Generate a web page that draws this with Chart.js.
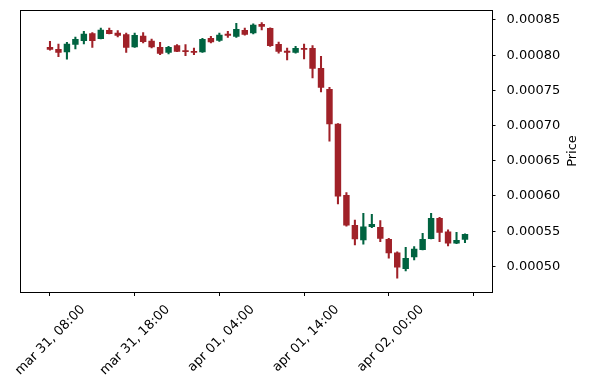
<!DOCTYPE html>
<html>
<head>
<meta charset="utf-8">
<script src="https://cdn.jsdelivr.net/npm/chart.js@4"></script>
<style>
  html, body { margin: 0; padding: 0; background: #fff; }
</style>
</head>
<body>
<canvas id="chart" width="589" height="390"></canvas>
<script>
// hourly candles, mar 31 08:00 -> apr 02 09:00
const opens = [0.0008116, 0.0008088, 0.0008041, 0.0008149, 0.0008202, 0.0008311, 0.0008230, 0.0008358, 0.0008320, 0.0008297,
  0.0008112, 0.0008277, 0.0008206, 0.0008117, 0.0008036, 0.0008141, 0.0008070, 0.0008060, 0.0008041, 0.0008244,
  0.0008206, 0.0008305, 0.0008263, 0.0008358, 0.0008311, 0.0008443, 0.0008386, 0.0008159, 0.0008064, 0.0008036,
  0.0008102, 0.0008102, 0.0007818, 0.0007520, 0.0007027, 0.0006015, 0.0005589, 0.0005371, 0.0005560, 0.0005560,
  0.0005390, 0.0005196, 0.0004964, 0.0005130, 0.0005234, 0.0005390, 0.0005688, 0.0005494, 0.0005324, 0.0005380]
const highs = [0.0008197, 0.0008159, 0.0008183, 0.0008259, 0.0008340, 0.0008320, 0.0008386, 0.0008386, 0.0008348, 0.0008315,
  0.0008315, 0.0008320, 0.0008230, 0.0008183, 0.0008126, 0.0008150, 0.0008150, 0.0008102, 0.0008240, 0.0008269,
  0.0008315, 0.0008340, 0.0008453, 0.0008386, 0.0008447, 0.0008462, 0.0008390, 0.0008188, 0.0008102, 0.0008126,
  0.0008159, 0.0008135, 0.0007984, 0.0007544, 0.0007030, 0.0006048, 0.0005659, 0.0005754, 0.0005741, 0.0005649,
  0.0005400, 0.0005206, 0.0005272, 0.0005281, 0.0005471, 0.0005754, 0.0005698, 0.0005518, 0.0005485, 0.0005461]
const lows = [0.0008070, 0.0007979, 0.0007942, 0.0008088, 0.0008159, 0.0008112, 0.0008230, 0.0008301, 0.0008259, 0.0008041,
  0.0008112, 0.0008173, 0.0008102, 0.0008007, 0.0008017, 0.0008050, 0.0007993, 0.0008007, 0.0008041, 0.0008173,
  0.0008197, 0.0008254, 0.0008254, 0.0008283, 0.0008301, 0.0008358, 0.0008125, 0.0008027, 0.0007932, 0.0008027,
  0.0007946, 0.0007676, 0.0007478, 0.0006777, 0.0005887, 0.0005570, 0.0005304, 0.0005314, 0.0005550, 0.0005351,
  0.0005116, 0.0004832, 0.0004936, 0.0005092, 0.0005234, 0.0005390, 0.0005351, 0.0005291, 0.0005324, 0.0005338]
const closes = [0.0008078, 0.0008036, 0.0008163, 0.0008230, 0.0008305, 0.0008202, 0.0008362, 0.0008301, 0.0008277, 0.0008107,
  0.0008287, 0.0008188, 0.0008112, 0.0008021, 0.0008117, 0.0008050, 0.0008046, 0.0008036, 0.0008230, 0.0008183,
  0.0008291, 0.0008277, 0.0008372, 0.0008291, 0.0008433, 0.0008405, 0.0008131, 0.0008050, 0.0008036, 0.0008102,
  0.0008078, 0.0007808, 0.0007539, 0.0007019, 0.0005991, 0.0005579, 0.0005386, 0.0005565, 0.0005601, 0.0005394,
  0.0005187, 0.0004983, 0.0005120, 0.0005252, 0.0005390, 0.0005688, 0.0005479, 0.0005324, 0.0005376, 0.0005461]

const xTickPositions = [0, 10, 20, 30, 40, 50]
const xTickLabels = ['mar 31, 08:00', 'mar 31, 18:00', 'apr 01, 04:00', 'apr 01, 14:00', 'apr 02, 00:00', '']
const yTicks = [0.0005, 0.00055, 0.0006, 0.00065, 0.0007, 0.00075, 0.0008, 0.00085]

const upColor = '#006340'
const downColor = '#a02128'
const colors = closes.map((c, i) => (c >= opens[i] ? upColor : downColor))

const tickFont = { family: '"DejaVu Sans", sans-serif', size: 13 }

// frame around the plot + right side "Price" label reading bottom to top
const framePlugin = {
  id: 'frame',
  afterDraw(chart) {
    const { ctx, chartArea: a } = chart
    ctx.save()
    ctx.strokeStyle = '#000'
    ctx.lineWidth = 1
    const l = Math.round(a.left) + 0.5
    const t = Math.round(a.top) + 0.5
    const r = Math.round(a.right) + 0.5
    const b = Math.round(a.bottom) + 0.5
    ctx.strokeRect(l, t, r - l, b - t)
    ctx.translate(573, (a.top + a.bottom) / 2)
    ctx.rotate(-Math.PI / 2)
    ctx.fillStyle = '#000'
    ctx.font = '13px "DejaVu Sans", sans-serif'
    ctx.textAlign = 'center'
    ctx.textBaseline = 'middle'
    ctx.fillText('Price', 0, 0)
    ctx.restore()
  },
}

new Chart(document.getElementById('chart'), {
  type: 'bar',
  data: {
    datasets: [
      {
        label: 'wick',
        data: lows.map((l, i) => ({ x: i, y: [l, highs[i]] })),
        backgroundColor: colors,
        barThickness: 1.4,
        grouped: false,
        order: 2,
      },
      {
        label: 'body',
        data: opens.map((o, i) => ({ x: i, y: [o, closes[i]] })),
        backgroundColor: colors,
        borderWidth: 0,
        barPercentage: 0.76,
        categoryPercentage: 1,
        grouped: false,
        order: 1,
      },
    ],
  },
  options: {
    responsive: false,
    animation: false,
    devicePixelRatio: 1,
    layout: { padding: { left: 20, top: 10, right: 0, bottom: 0 } },
    plugins: { legend: { display: false }, tooltip: { enabled: false } },
    scales: {
      x: {
        type: 'linear',
        min: -3.54,
        max: 52.13,
        offset: false,
        grid: { display: true, drawOnChartArea: false, drawTicks: true, tickLength: 4, color: '#000', offset: false },
        border: { display: false },
        afterBuildTicks: (s) => {
          s.ticks = xTickPositions.map((v) => ({ value: v }))
        },
        afterFit: (s) => {
          s.height = 98
          s.paddingLeft = 0
          s.paddingRight = 0
        },
        ticks: {
          autoSkip: false,
          minRotation: 45,
          maxRotation: 45,
          labelOffset: 33,
          padding: 6,
          color: '#000',
          font: tickFont,
          callback: (value, index) => xTickLabels[index],
        },
      },
      y: {
        type: 'linear',
        position: 'right',
        min: 0.0004636,
        max: 0.0008642,
        grid: { display: true, drawOnChartArea: false, drawTicks: true, tickLength: 4, color: '#000' },
        border: { display: false },
        afterBuildTicks: (s) => {
          s.ticks = yTicks.map((v) => ({ value: v }))
        },
        afterFit: (s) => {
          s.width = 97.5
          s.paddingTop = 0
          s.paddingBottom = 0
        },
        ticks: {
          padding: 11,
          color: '#000',
          font: tickFont,
          callback: (value) => value.toFixed(5),
        },
      },
    },
  },
  plugins: [framePlugin],
})
</script>
</body>
</html>
